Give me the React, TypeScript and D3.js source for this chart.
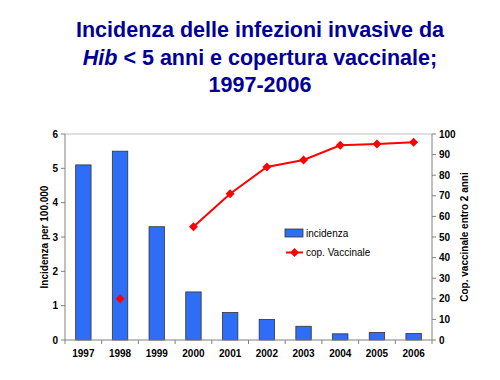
import React from "react";
import * as d3 from "d3";

const years = ["1997","1998","1999","2000","2001","2002","2003","2004","2005","2006"];
const incidenza = [5.1, 5.5, 3.3, 1.4, 0.8, 0.6, 0.4, 0.18, 0.22, 0.19];
const copertura: (number | null)[] = [null, 20, null, 55, 71, 84, 87.4, 94.5, 95.2, 96];
const leftTicks = [0, 1, 2, 3, 4, 5, 6];
const rightTicks = [0, 10, 20, 30, 40, 50, 60, 70, 80, 90, 100];

export default function App() {
  const left = 65, right = 432, top = 134, bottom = 340;
  const x = d3.scaleBand<string>().domain(years).range([left, right]).paddingInner(0.58).paddingOuter(0.29);
  const step = (right - left) / years.length;
  const yL = d3.scaleLinear().domain([0, 6]).range([bottom, top]);
  const yR = d3.scaleLinear().domain([0, 100]).range([bottom, top]);
  const cx = (y: string) => left + step * (years.indexOf(y) + 0.5);

  const pts = years.map((yr, i) => ({ yr, v: copertura[i] })).filter(d => d.v !== null) as { yr: string; v: number }[];
  const lineData = pts.filter(d => +d.yr >= 2000);
  const line = d3.line<{ yr: string; v: number }>().x(d => cx(d.yr)).y(d => yR(d.v));
  const r = 4.5;
  const diamond = `M0,${-r}L${r},0L0,${r}L${-r},0Z`;
  const font = "'Liberation Sans', Arial, sans-serif";
  const axisColor = "#808080";

  return (
    <svg width={500} height={380} style={{ position: "absolute", left: 0, top: 0 }} fontFamily={font}>
      <rect width={500} height={380} fill="#fff" />
      <g fill="#000099" fontWeight="bold" fontSize={21.5} textAnchor="middle">
        <text x={260} y={37}>Incidenza delle infezioni invasive da</text>
        <text x={260} y={65}><tspan fontStyle="italic">Hib</tspan> &lt; 5 anni e copertura vaccinale;</text>
        <text x={260} y={92}>1997-2006</text>
      </g>
      <line x1={left} x2={right} y1={top} y2={top} stroke="#c0c0c0" />
      {years.map((yr, i) => (
        <rect key={yr} x={x(yr)} y={yL(incidenza[i])} width={x.bandwidth()} height={bottom - yL(incidenza[i])}
          fill="#2e6df5" stroke="#333" strokeWidth={0.8} />
      ))}
      <line x1={left} x2={left} y1={top} y2={bottom} stroke={axisColor} />
      {leftTicks.map(t => (
        <g key={t}>
          <line x1={left - 4} x2={left} y1={yL(t)} y2={yL(t)} stroke={axisColor} />
          <text x={left - 7} y={yL(t) + 3.5} fontSize={10} fontWeight="bold" textAnchor="end">{t}</text>
        </g>
      ))}
      <line x1={right} x2={right} y1={top} y2={bottom} stroke={axisColor} />
      {rightTicks.map(t => (
        <g key={t}>
          <line x1={right} x2={right + 4} y1={yR(t)} y2={yR(t)} stroke={axisColor} />
          <text x={right + 7} y={yR(t) + 3.5} fontSize={10} fontWeight="bold" textAnchor="start">{t}</text>
        </g>
      ))}
      <line x1={left} x2={right} y1={bottom} y2={bottom} stroke={axisColor} />
      {d3.range(years.length + 1).map(i => (
        <line key={i} x1={left + step * i} x2={left + step * i} y1={bottom} y2={bottom + 4} stroke={axisColor} />
      ))}
      {years.map(yr => (
        <text key={yr} x={cx(yr)} y={357} fontSize={10} fontWeight="bold" textAnchor="middle">{yr}</text>
      ))}
      <text transform={`translate(48,${(top + bottom) / 2}) rotate(-90)`} fontSize={10} fontWeight="bold" textAnchor="middle">Incidenza per 100.000</text>
      <text transform={`translate(468,${(top + bottom) / 2}) rotate(-90)`} fontSize={10} fontWeight="bold" textAnchor="middle">Cop. vaccinale entro 2 anni</text>
      <path d={line(lineData) || ""} fill="none" stroke="#ff0000" strokeWidth={2} />
      {pts.map(d => (
        <path key={d.yr} d={diamond} transform={`translate(${cx(d.yr)},${yR(d.v)})`} fill="#ff0000" />
      ))}
      <rect x={285} y={229} width={18} height={8} fill="#2e6df5" stroke="#333" strokeWidth={0.8} />
      <text x={306} y={236.5} fontSize={10}>incidenza</text>
      <line x1={286} x2={303} y1={252.5} y2={252.5} stroke="#ff0000" strokeWidth={2} />
      <path d={diamond} transform="translate(294.5,252.5)" fill="#ff0000" />
      <text x={306} y={256} fontSize={10}>cop. Vaccinale</text>
    </svg>
  );
}
